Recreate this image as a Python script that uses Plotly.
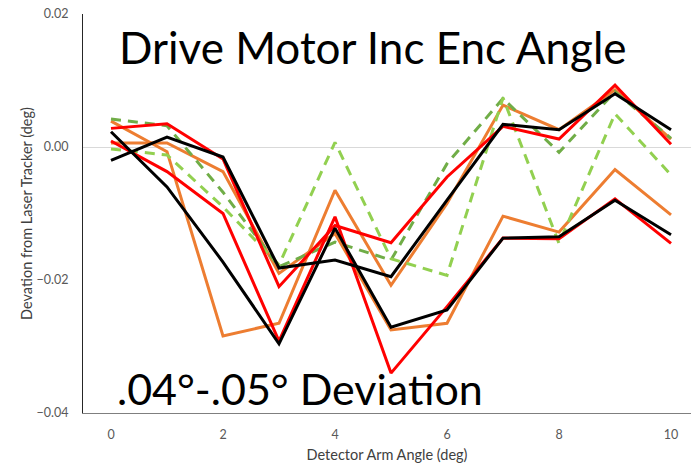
import plotly.graph_objects as go

# Detector arm angle (deg)
angles = [0, 1, 2, 3, 4, 5, 6, 7, 8, 9, 10]

# Deviation from laser tracker (deg), one list per run
orange_a = [0.0039, -0.0007, -0.0284, -0.0265, -0.0065, -0.0208, -0.0085, 0.0063, 0.0026, 0.0086, 0.0012]
orange_b = [0.0006, 0.0006, -0.0037, -0.0190, -0.0130, -0.0275, -0.0265, -0.0104, -0.0128, -0.0034, -0.0102]
green_a = [0.0042, 0.0032, -0.0068, -0.0180, -0.0143, -0.0170, -0.0025, 0.0073, -0.0008, 0.0083, 0.0013]
green_b = [-0.0003, -0.0012, -0.0090, -0.0177, 0.0007, -0.0168, -0.0193, 0.0074, -0.0145, 0.0050, -0.0042]
red_a = [0.0028, 0.0035, -0.0018, -0.0210, -0.0118, -0.0144, -0.0045, 0.0031, 0.0012, 0.0093, 0.0004]
red_b = [0.0009, -0.0037, -0.0100, -0.0292, -0.0105, -0.0340, -0.0240, -0.0137, -0.0138, -0.0078, -0.0145]
black_a = [-0.0020, 0.0015, -0.0015, -0.0182, -0.0170, -0.0195, -0.0080, 0.0034, 0.0026, 0.0080, 0.0026]
black_b = [0.0023, -0.0060, -0.0173, -0.0296, -0.0122, -0.0271, -0.0245, -0.0137, -0.0135, -0.0080, -0.0132]

y_ticks = [-0.04, -0.02, 0.00, 0.02]
x_ticks = [0, 2, 4, 6, 8, 10]

series = [
    (orange_a, "#ED7D31", "solid"),
    (orange_b, "#ED7D31", "solid"),
    (green_a, "#70AD47", "10px,7px"),
    (green_b, "#92D050", "10px,7px"),
    (red_a, "#FF0000", "solid"),
    (red_b, "#FF0000", "solid"),
    (black_a, "#000000", "solid"),
    (black_b, "#000000", "solid"),
]

fig = go.Figure()
for values, color, dash in series:
    fig.add_trace(go.Scatter(
        x=angles, y=values, mode="lines",
        line=dict(color=color, width=3, dash=dash),
        showlegend=False, hoverinfo="skip",
    ))

tick_font = dict(family="Lato, sans-serif", size=12.5, color="#595959")

fig.update_layout(
    width=691, height=467,
    margin=dict(l=83, r=0, t=14, b=54),
    paper_bgcolor="white", plot_bgcolor="white",
    font=dict(family="Lato, sans-serif", color="#595959"),
    xaxis=dict(
        range=[-0.5, 10.357], tickvals=x_ticks, ticktext=[str(v) for v in x_ticks],
        showgrid=False, zeroline=False, showline=True, linecolor="#7f7f7f", linewidth=1,
        ticks="", tickfont=tick_font, ticklabelstandoff=10,
        title=dict(text="Detector Arm Angle (deg)", font=dict(size=14.5, color="#404040"), standoff=8),
    ),
    yaxis=dict(
        range=[-0.04, 0.02], tickvals=y_ticks, tickformat=".2f",
        showgrid=False, zeroline=True, zerolinecolor="#d9d9d9", zerolinewidth=1,
        showline=True, linecolor="#262626", linewidth=1,
        ticks="", tickfont=tick_font, ticklabelstandoff=11,
        title=dict(text="Devation from Laser Tracker (deg)", font=dict(size=14.5, color="#404040"), standoff=0),
    ),
    annotations=[
        dict(text="Drive Motor Inc Enc Angle", xref="paper", yref="paper",
             x=(117 - 83) / 608, y=(413 - 47) / 399, xanchor="left", yanchor="middle",
             showarrow=False, font=dict(family="Lato, sans-serif", size=44, color="#000000")),
        dict(text=".04°-.05° Deviation", xref="paper", yref="paper",
             x=(115 - 83) / 608, y=(413 - 388) / 399, xanchor="left", yanchor="middle",
             showarrow=False, font=dict(family="Lato, sans-serif", size=43, color="#000000")),
    ],
)

fig.write_html("out.html")
